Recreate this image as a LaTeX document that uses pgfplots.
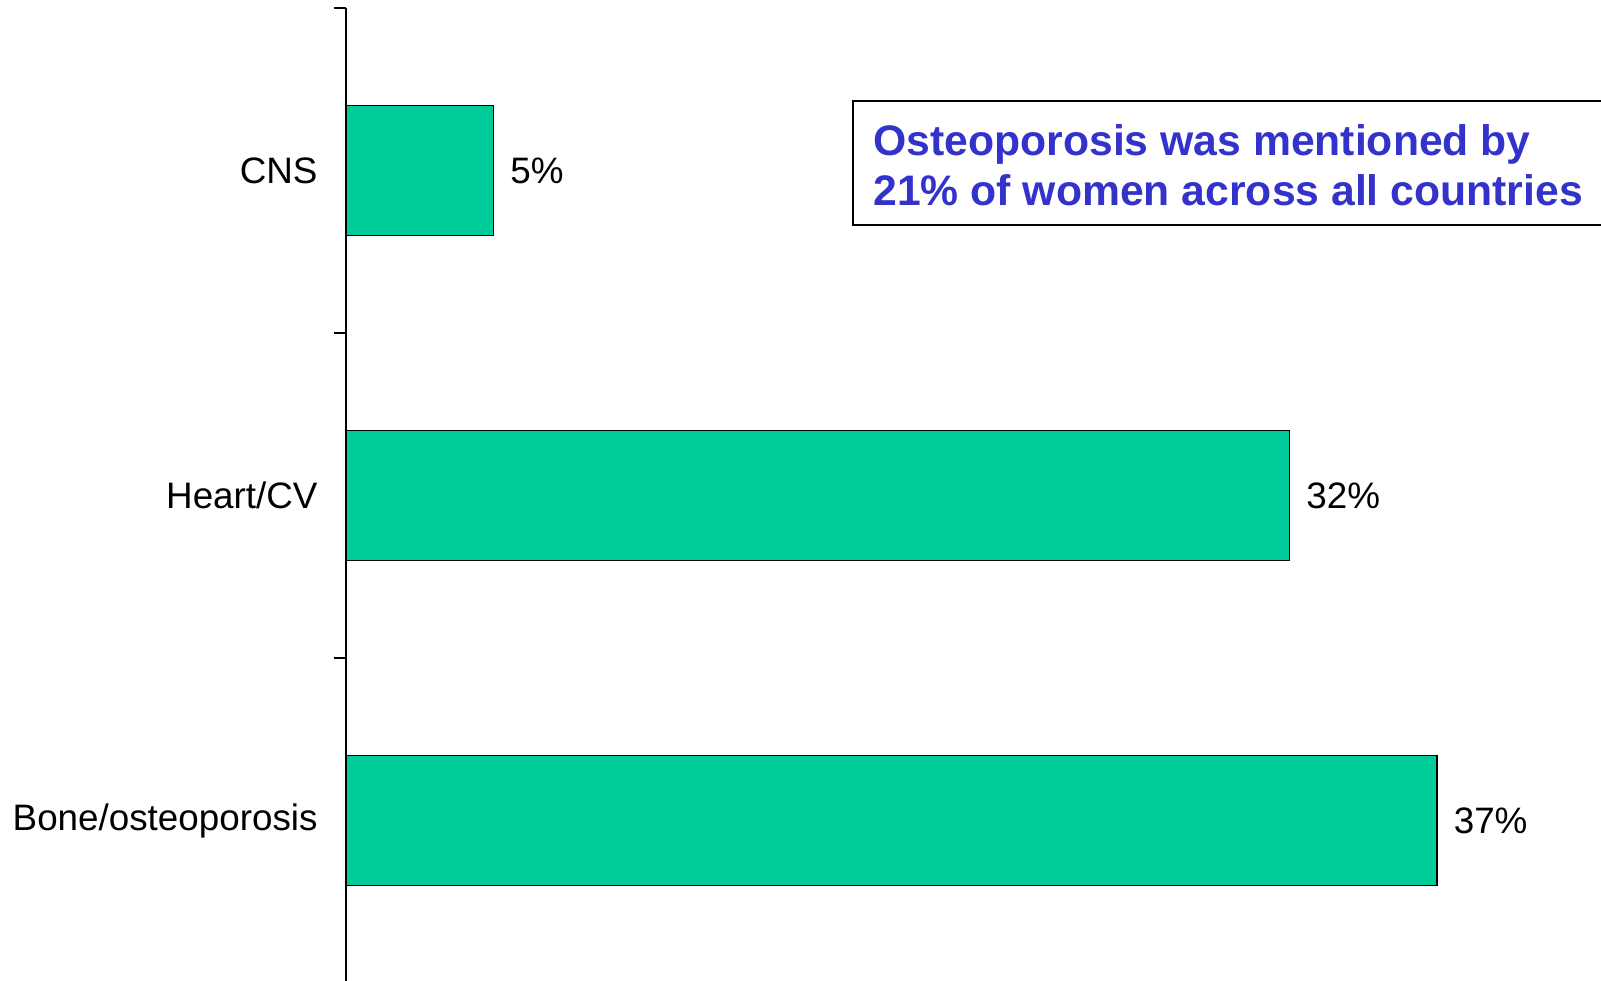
\documentclass[border=0pt]{standalone}
\usepackage{pgfplots}
\pgfplotsset{compat=1.18}
\usepackage{fontspec}
\setmainfont{Liberation Sans}
\definecolor{barcol}{HTML}{00CC99}
\definecolor{txtblue}{HTML}{3333CC}
\begin{document}
\begin{tikzpicture}[x=1pt,y=1pt]
\clip (0,0) rectangle (800.5,490);
\begin{axis}[
  at={(173pt,-1.5pt)}, anchor=south west,
  scale only axis, width=589.7pt, height=487.5pt,
  xmin=0, xmax=40, ymin=-0.5, ymax=2.5,
  xbar, bar width=64.85pt,
  axis x line=none, axis y line*=left,
  ytick={0,1,2}, yticklabels={Bone/osteoporosis,Heart/CV,CNS},
  major tick length=0pt,
  minor ytick={-0.5,0.5,1.5,2.5},
  minor tick length=6pt, tick align=outside,
  tick style={black, line width=0.6pt},
  axis line style={black, line width=0.6pt},
  yticklabel style={font=\fontsize{18.4}{22}\selectfont, xshift=-10.7pt},
  point meta=x,
  /pgf/number format/assume math mode=true,
  nodes near coords={\pgfmathprintnumber{\pgfplotspointmeta}\%},
  nodes near coords style={font=\fontsize{18.4}{22}\selectfont, anchor=west, xshift=4.8pt, black},
  clip=false,
]
\addplot[fill=barcol, draw=black, line width=0.6pt] coordinates {(37,0) (32,1) (5,2)};
\end{axis}
\draw[line width=0.75pt] (426.5,377.5) rectangle (820,439.5);
\node[anchor=base west, inner sep=0pt, align=left, text=txtblue,
      font=\fontsize{21.35}{25}\selectfont\bfseries] at (436.5,387.2)
  {Osteoporosis was mentioned by\\21\% of women across all countries};
\end{tikzpicture}
\end{document}
